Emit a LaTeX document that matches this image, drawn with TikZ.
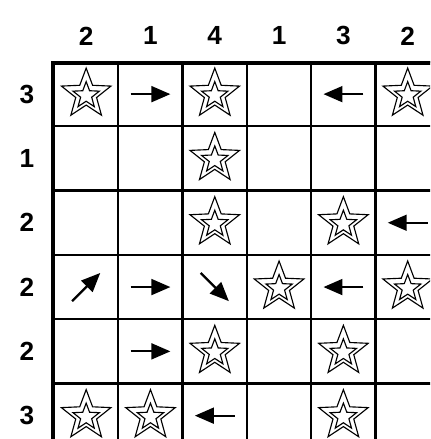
\documentclass[tikz,border=0pt]{standalone}
\usepackage{fontspec}
\setmainfont{Liberation Sans}
\usetikzlibrary{arrows.meta}

\tikzset{
  pics/dstar/.style={code={
    \draw[starline] (90:0.405) \foreach \k in {1,...,9}{ -- ({90+36*\k}:{0.405*(1-0.58*mod(\k,2))})} -- cycle;
    \draw[starline] (0,-0.02) ++(90:0.215) \foreach \k in {1,...,9}{ -- ($(0,-0.02)+({90+36*\k}:{0.215*(1-0.58*mod(\k,2))})$)} -- cycle;
  }}
}
\usetikzlibrary{calc}

\begin{document}
\begin{tikzpicture}[
  clue/.style={font=\bfseries\fontsize{11.6}{14}\selectfont},
  gridline/.style={line width=1pt},
  frameline/.style={line width=1.7pt},
  starline/.style={line width=0.5pt},
  cellarrow/.style={line width=1pt, -{Triangle[length=8.4pt,width=7pt]}}
]
\useasboundingbox (-0.840,0.964) rectangle (5.848,-5.863);
\clip (-0.840,0.964) rectangle (5.848,-5.863);
\foreach \r in {0,...,5} \foreach \c in {0,...,5} \coordinate (x\r\c) at (\c+0.5,-\r-0.5);
\draw[gridline] (0,0) grid (6.5,-6.5);
\draw[frameline] (6.5,-0.01) -- (-0.01,-0.01) -- (-0.01,-6.5);
% clues
\foreach \n [count=\i] in {2,1,4,1,3,2} \node[clue] (c\i) at (\i-0.5,0.405) {\n};
\foreach \n [count=\j] in {3,1,2,2,2,3} \node[clue] (r\j) at (-0.42,-\j+0.5) {\n};
% stars
\foreach \r/\c in {0/0,0/2,0/5,1/2,2/2,2/4,3/3,3/5,4/2,4/4,5/0,5/1,5/4}
  \pic at (x\r\c) {dstar};
% arrows
\foreach \r/\c/\a in {0/1/0,3/1/0,4/1/0,0/4/180,2/5/180,3/4/180,5/2/180,3/0/45,3/2/-45}
  \draw[cellarrow] ([shift={(\a+180:0.31)}]x\r\c) -- ([shift={(\a:0.31)}]x\r\c);
\end{tikzpicture}
\end{document}
